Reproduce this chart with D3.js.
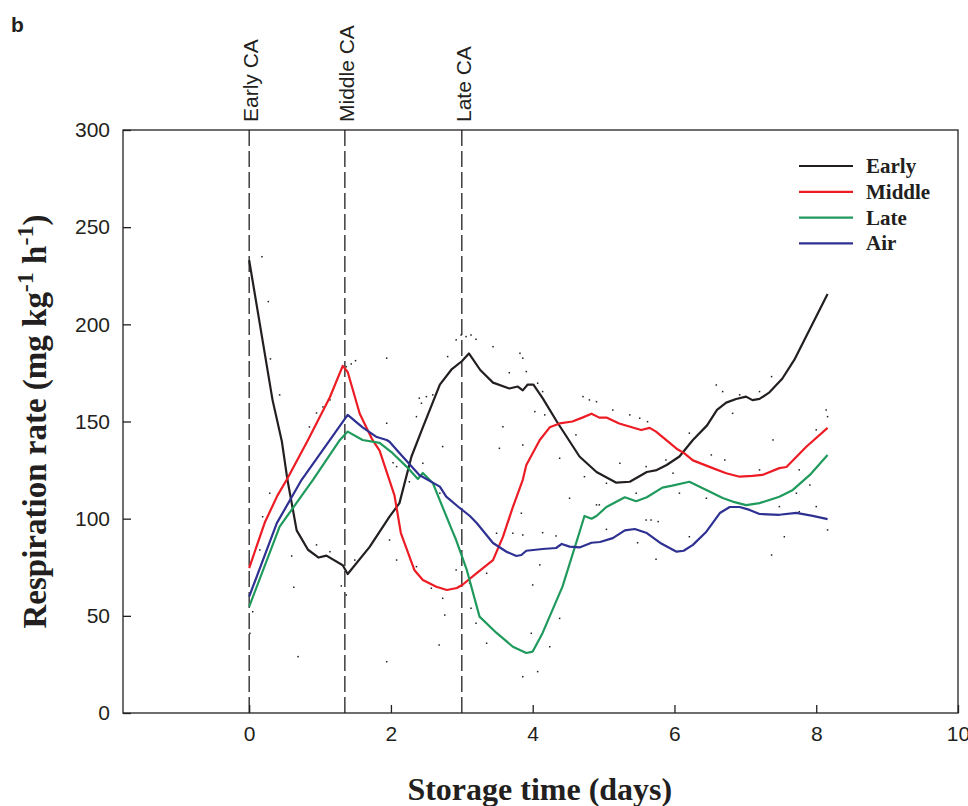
<!DOCTYPE html>
<html>
<head>
<meta charset="utf-8">
<script src="https://cdn.jsdelivr.net/npm/d3@7.9.0/dist/d3.min.js"></script>
<style>
  html, body { margin: 0; padding: 0; background: #fff; }
  svg { display: block; }
</style>
</head>
<body>
<div id="chart"></div>
<script>
// curve data: [day, respiration rate]
const early = [
  [0.0, 233], [0.33, 161], [0.46, 140], [0.54, 120], [0.67, 94], [0.83, 84], [0.98, 80],
  [1.09, 81], [1.32, 76], [1.39, 71.5], [1.70, 85.5], [1.98, 101], [2.12, 108], [2.29, 132],
  [2.45, 147], [2.69, 169], [2.86, 177], [3.0, 181], [3.10, 185], [3.26, 176.5], [3.44, 170],
  [3.67, 167], [3.79, 168], [3.86, 166], [3.93, 169], [4.01, 169], [4.14, 162], [4.34, 150],
  [4.66, 132], [4.90, 124], [5.18, 118.5], [5.37, 119], [5.61, 124], [5.75, 125], [5.89, 127.6],
  [6.07, 132], [6.26, 140.5], [6.46, 148], [6.60, 156], [6.73, 159.7], [6.87, 161.6], [7.01, 162.8],
  [7.10, 161], [7.20, 161.6], [7.34, 165], [7.52, 172], [7.69, 181.7], [8.16, 215.6]
];
const middle = [
  [0.0, 74.6], [0.22, 98], [0.40, 112], [0.53, 120], [0.83, 140.5], [1.14, 162.6], [1.32, 178.6],
  [1.39, 175.5], [1.56, 154], [1.74, 140.5], [1.84, 135], [2.05, 112], [2.14, 92.6], [2.33, 73.6],
  [2.45, 68.4], [2.64, 65], [2.79, 63.3], [2.93, 64.3], [3.01, 66], [3.21, 72], [3.44, 78.7],
  [3.58, 90.6], [3.72, 106], [3.86, 120], [3.91, 127.6], [4.10, 140.5], [4.24, 147], [4.38, 149],
  [4.56, 150], [4.70, 152], [4.83, 154], [4.94, 152], [5.04, 152], [5.22, 149], [5.53, 145.6],
  [5.65, 146.7], [5.74, 144.8], [6.03, 136], [6.14, 133.6], [6.26, 130], [6.54, 126], [6.73, 123.4],
  [6.92, 121.6], [7.10, 122], [7.24, 122.5], [7.48, 126], [7.58, 126.6], [7.86, 137], [8.16, 146.7]
];
const late = [
  [0.0, 54.7], [0.43, 95.9], [0.90, 120], [1.28, 140.5], [1.39, 144.8], [1.60, 140.5], [1.84, 139],
  [2.02, 133.8], [2.22, 126.8], [2.38, 120.4], [2.45, 123.5], [2.59, 118.4], [2.86, 94.2], [2.92, 89],
  [3.07, 73.6], [3.25, 49.6], [3.49, 41.2], [3.72, 34.1], [3.91, 30.9], [4.0, 31.6], [4.14, 41.2],
  [4.42, 65], [4.66, 93], [4.73, 101.4], [4.83, 100], [4.90, 101.4], [5.04, 106], [5.30, 111],
  [5.46, 109], [5.61, 111], [5.83, 116], [5.97, 117], [6.21, 119], [6.45, 114.8], [6.68, 110.6],
  [6.82, 108.8], [7.01, 107], [7.20, 108], [7.48, 111.3], [7.67, 114.8], [7.91, 122.5], [8.16, 132.8]
];
const air = [
  [0.0, 59.9], [0.39, 97.7], [0.74, 120], [1.14, 140.5], [1.39, 153.4], [1.60, 147], [1.80, 142],
  [1.94, 140.5], [1.98, 139.6], [2.12, 133.8], [2.40, 122.5], [2.69, 116.5], [2.78, 111.3],
  [2.97, 105.5], [3.11, 101.5], [3.21, 97.8], [3.44, 87.5], [3.63, 83], [3.77, 80.8], [3.84, 81.3],
  [3.91, 83.5], [4.14, 84.4], [4.33, 84.9], [4.41, 87], [4.52, 85.6], [4.66, 85.2], [4.83, 87.6],
  [4.95, 88], [5.13, 90], [5.30, 94], [5.44, 94.7], [5.61, 92.6], [5.80, 87.5], [6.03, 83],
  [6.13, 83.5], [6.26, 86.5], [6.45, 93.3], [6.64, 102.9], [6.78, 106], [6.92, 106], [7.06, 104.5],
  [7.20, 102.4], [7.48, 102], [7.72, 103], [7.95, 101.4], [8.16, 99.8]
];

// individual measurements (small dots)
const dots = [
  [0.18, 234.8], [0.27, 211.7], [0.30, 182.2], [0.43, 163.7], [1.94, 182.6], [1.94, 149.1],
  [0.85, 147.2], [0.95, 154.4], [1.04, 157.5], [1.14, 161.1], [1.37, 178.2], [1.44, 179.6],
  [1.50, 181.3], [2.80, 183.4], [2.92, 192.0], [2.99, 194.5], [3.06, 193.7], [3.13, 194.5],
  [3.20, 192.3], [2.36, 152.5], [2.43, 159.4], [2.50, 162.8], [2.59, 163.7], [3.44, 188.5],
  [3.82, 185.1], [3.86, 182.6], [3.67, 175.1], [3.91, 175.7], [4.07, 169.7], [4.14, 165.4],
  [4.03, 155.1], [4.17, 153.4], [4.71, 162.8], [4.80, 161.1], [4.90, 160.2], [5.13, 155.9],
  [5.37, 153.4], [5.51, 151.7], [5.62, 149.9], [3.58, 147.3], [3.53, 136.2], [3.86, 137.9],
  [4.38, 131.1], [4.61, 143.1], [5.23, 128.5], [4.73, 121.6], [5.04, 118.2], [5.46, 113.1],
  [5.98, 123.4], [5.88, 130.2], [2.03, 128.8], [2.08, 126.8], [2.45, 128.5], [2.73, 137.1],
  [2.40, 162.0], [2.26, 119.0], [2.69, 113.1], [4.90, 107.1], [5.60, 99.3], [5.77, 98.5],
  [6.59, 168.8], [6.68, 165.4], [6.92, 163.7], [7.20, 165.4], [7.37, 173.1], [8.14, 155.9],
  [8.16, 152.5], [8.00, 145.7], [7.39, 140.5], [6.21, 144.0], [6.82, 154.2], [6.52, 132.8],
  [6.71, 130.2], [7.20, 125.1], [7.76, 125.1], [7.91, 117.3], [5.60, 126.8], [6.07, 113.1],
  [6.45, 110.5], [7.48, 106.2], [7.72, 113.1], [7.76, 103.6], [8.00, 106.2], [8.16, 94.2],
  [7.55, 90.7], [7.37, 81.3], [5.74, 79.1], [5.04, 94.5], [5.48, 87.6], [5.67, 99.3],
  [4.94, 107.1], [6.21, 90.7], [0.29, 113.1], [0.19, 101.0], [0.15, 83.9], [0.60, 80.8],
  [0.63, 64.7], [0.69, 29.0], [0.01, 41.0], [0.05, 52.1], [1.30, 65.4], [1.37, 60.7],
  [0.95, 86.5], [1.14, 83.0], [1.49, 78.7], [1.94, 26.4], [1.98, 89.0], [2.08, 78.7],
  [2.36, 75.3], [2.57, 64.2], [2.73, 59.0], [2.76, 50.4], [2.68, 35.0], [2.92, 73.6],
  [3.11, 66.8], [3.20, 46.2], [3.35, 35.9], [3.35, 71.9], [3.13, 53.9], [3.49, 92.5],
  [3.72, 92.5], [3.86, 91.6], [4.14, 92.8], [4.33, 91.1], [3.84, 102.8], [4.00, 65.9],
  [4.10, 76.2], [3.98, 41.0], [4.24, 34.1], [4.38, 48.7], [3.86, 18.7], [4.07, 21.3],
  [4.52, 110.5]
];

const seriesNames = ["Early", "Middle", "Late", "Air"];
const seriesData = [early, middle, late, air];
const seriesColors = ["#231f20", "#ed1c24", "#1f9a5c", "#2e3192"];

const caDays = [0, 1.35, 3.0];
const caLabels = ["Early CA", "Middle CA", "Late CA"];

const xTicks = [0, 2, 4, 6, 8, 10];
const yTicks = [0, 50, 100, 150, 200, 250, 300];

const width = 968, height = 806;
const margin = { top: 130, right: 10, bottom: 93, left: 123 };

const svg = d3.select("#chart").append("svg")
  .attr("width", width)
  .attr("height", height);

const x = d3.scaleLinear().domain([-1.78, 10]).range([margin.left, width - margin.right]);
const y = d3.scaleLinear().domain([0, 300]).range([height - margin.bottom, margin.top]);

const ink = "#231f20";
const sans = "'Liberation Sans', Arial, sans-serif";
const serif = "'Liberation Serif', 'Times New Roman', serif";

// frame
svg.append("rect")
  .attr("x", x.range()[0])
  .attr("y", y.range()[1])
  .attr("width", x.range()[1] - x.range()[0])
  .attr("height", y.range()[0] - y.range()[1])
  .attr("fill", "none")
  .attr("stroke", ink)
  .attr("stroke-width", 1.3);

// axes, ticks pointing inward
const xAxis = svg.append("g")
  .attr("transform", `translate(0,${y(0)})`)
  .call(d3.axisBottom(x).tickValues(xTicks).tickSizeInner(-8).tickSizeOuter(0).tickPadding(24));
const yAxis = svg.append("g")
  .attr("transform", `translate(${x.range()[0]},0)`)
  .call(d3.axisLeft(y).tickValues(yTicks).tickSizeInner(-8).tickSizeOuter(0).tickPadding(13));

[xAxis, yAxis].forEach(g => {
  g.select(".domain").remove();
  g.selectAll(".tick line").attr("stroke", ink).attr("stroke-width", 1.3);
  g.selectAll(".tick text")
    .attr("fill", ink)
    .style("font-family", sans)
    .style("font-size", "21px");
});
xAxis.selectAll(".tick text").attr("dy", "0.2em");

// CA start markers
svg.append("g").selectAll("line")
  .data(caDays)
  .join("line")
  .attr("x1", d => x(d)).attr("x2", d => x(d))
  .attr("y1", y(300)).attr("y2", y(0))
  .attr("stroke", ink)
  .attr("stroke-width", 1.3)
  .attr("stroke-dasharray", "16,5");

svg.append("g").selectAll("text")
  .data(caDays)
  .join("text")
  .attr("transform", d => `translate(${x(d) + 9},122) rotate(-90)`)
  .attr("fill", ink)
  .style("font-family", sans)
  .style("font-size", "21px")
  .text((d, i) => caLabels[i]);

// measurement dots
svg.append("g").selectAll("rect")
  .data(dots)
  .join("rect")
  .attr("x", d => x(d[0]) - 0.75)
  .attr("y", d => y(d[1]) - 0.75)
  .attr("width", 1.5)
  .attr("height", 1.5)
  .attr("fill", ink);

// curves
const line = d3.line().x(d => x(d[0])).y(d => y(d[1]));
svg.append("g").selectAll("path")
  .data(seriesData)
  .join("path")
  .attr("d", line)
  .attr("fill", "none")
  .attr("stroke", (d, i) => seriesColors[i])
  .attr("stroke-width", 2.2)
  .attr("stroke-linejoin", "round");

// legend
const legend = svg.append("g").attr("transform", "translate(799,166)");
const items = legend.selectAll("g")
  .data(seriesNames)
  .join("g")
  .attr("transform", (d, i) => `translate(0,${i * 25.8})`);
items.append("line")
  .attr("x1", 0).attr("x2", 54)
  .attr("stroke", (d, i) => seriesColors[i])
  .attr("stroke-width", 2.2);
items.append("text")
  .attr("x", 67)
  .attr("y", 7)
  .attr("fill", ink)
  .style("font-family", serif)
  .style("font-weight", "bold")
  .style("font-size", "21px")
  .text(d => d);

// panel letter
svg.append("text")
  .attr("x", 11).attr("y", 32)
  .attr("fill", ink)
  .style("font-family", sans)
  .style("font-weight", "bold")
  .style("font-size", "21px")
  .text("b");

// axis titles
svg.append("text")
  .attr("x", x(4.1)).attr("y", 800)
  .attr("text-anchor", "middle")
  .attr("fill", ink)
  .style("font-family", serif)
  .style("font-weight", "bold")
  .style("font-size", "32px")
  .text("Storage time (days)");

const yTitle = svg.append("text")
  .attr("transform", `translate(46,${(y(0) + y(300)) / 2}) rotate(-90)`)
  .attr("text-anchor", "middle")
  .attr("fill", ink)
  .style("font-family", serif)
  .style("font-weight", "bold")
  .style("font-size", "33px");
yTitle.append("tspan").text("Respiration rate (mg kg");
yTitle.append("tspan").attr("dy", -13).style("font-size", "24px").text("-1");
yTitle.append("tspan").attr("dy", 13).text(" h");
yTitle.append("tspan").attr("dy", -13).style("font-size", "24px").text("-1");
yTitle.append("tspan").attr("dy", 13).text(")");
</script>
</body>
</html>
